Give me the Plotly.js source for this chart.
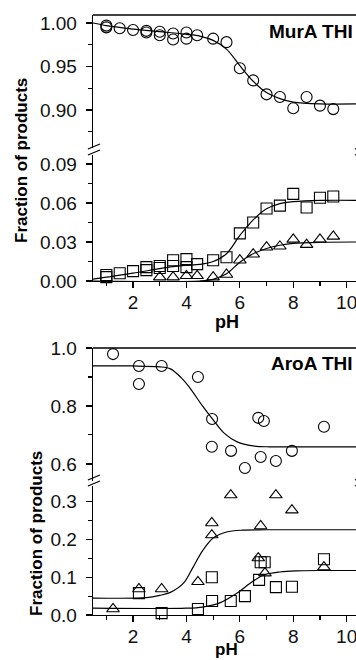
<!DOCTYPE html>
<html>
<head>
<meta charset="utf-8">
<script src="https://cdn.plot.ly/plotly-3.0.1.min.js"></script>
<style>
html,body{margin:0;padding:0;overflow:hidden;background:#fff;}
#chart{width:380px;height:660px;}
</style>
</head>
<body>
<div id="chart"></div>
<script>
// ---- Top panel (MurA THI) ----
const murA_circle_pH = [1.0,1.0,1.5,2.0,2.5,2.5,3.0,3.0,3.5,3.5,4.0,4.0,4.4,5.0,5.5,6.0,6.5,7.0,7.5,8.0,8.5,9.0,9.5];
const murA_circle_val = [0.997,0.995,0.994,0.992,0.991,0.989,0.990,0.986,0.988,0.981,0.989,0.982,0.986,0.982,0.978,0.948,0.934,0.918,0.915,0.902,0.915,0.905,0.901];
const murA_square_pH = [1.0,1.0,1.5,2.0,2.5,2.5,3.0,3.0,3.5,3.5,4.0,4.0,4.4,5.0,5.5,6.0,6.5,7.0,7.5,8.0,8.5,9.0,9.5];
const murA_square_val = [0.0046,0.003,0.006,0.0076,0.0107,0.0084,0.0115,0.010,0.016,0.0115,0.0168,0.0107,0.013,0.016,0.0183,0.0366,0.045,0.0557,0.058,0.067,0.0565,0.064,0.065];
const murA_tri_pH = [3.0,3.5,4.0,4.4,5.0,5.5,6.0,6.5,7.0,7.5,8.0,8.5,9.0,9.5];
const murA_tri_val = [0.003,0.003,0.004,0.004,0.003,0.005,0.016,0.0206,0.026,0.0267,0.032,0.028,0.032,0.0343];
// fitted curves
const murA_fitC_pH = [0.5,1,2,3,4,4.5,5,5.5,6,6.5,7,7.5,8,9,10.5];
const murA_fitC_val = [1.000,0.997,0.993,0.990,0.987,0.985,0.980,0.970,0.951,0.933,0.920,0.913,0.909,0.907,0.907];
const murA_fitS_pH = [0.5,1,2,3,3.5,4,4.5,5,5.5,6,6.5,7,7.5,8,9,10.5];
const murA_fitS_val = [0.0015,0.003,0.006,0.0095,0.011,0.012,0.0128,0.015,0.021,0.035,0.047,0.0555,0.0595,0.061,0.062,0.062];
const murA_fitT_pH = [0.5,4.5,5.0,5.5,6,6.5,7,7.5,8,9,10.5];
const murA_fitT_val = [0,0,0.0012,0.0055,0.0145,0.021,0.025,0.0275,0.029,0.0298,0.030];

// ---- Bottom panel (AroA THI) ----
const aroA_circle_pH = [1.25,2.22,2.22,3.07,4.43,4.96,4.95,5.67,6.19,6.69,6.9,6.78,7.35,7.95,9.15];
const aroA_circle_val = [0.979,0.938,0.876,0.938,0.90,0.755,0.659,0.645,0.586,0.759,0.748,0.624,0.61,0.645,0.728];
const aroA_tri_pH = [1.25,2.22,3.07,4.43,4.95,4.95,5.66,6.69,6.78,6.94,7.35,7.95,9.15];
const aroA_tri_val = [0.016,0.069,0.069,0.088,0.244,0.212,0.318,0.151,0.236,0.111,0.318,0.278,0.127];
const aroA_square_pH = [2.22,3.07,4.43,4.95,4.96,5.66,6.19,6.72,6.78,6.93,7.35,7.95,9.15];
const aroA_square_val = [0.058,0.005,0.016,0.10,0.037,0.037,0.05,0.093,0.14,0.14,0.074,0.075,0.148];
const aroA_fitC_pH = [0.5,2,3,3.4,3.8,4.1,4.6,5.0,5.4,5.9,6.5,7.1,8,10.5];
const aroA_fitC_val = [0.938,0.938,0.935,0.928,0.898,0.866,0.80,0.752,0.707,0.676,0.662,0.659,0.659,0.659];
const aroA_fitT_pH = [0.5,2.5,3.0,3.4,3.9,4.25,4.6,5.0,5.5,6.1,7,10.5];
const aroA_fitT_val = [0.045,0.046,0.052,0.060,0.085,0.127,0.170,0.204,0.220,0.225,0.226,0.226];
const aroA_fitS_pH = [0.5,4.0,4.6,5.25,5.9,6.4,6.9,7.5,8.1,9,10.5];
const aroA_fitS_val = [0.018,0.018,0.021,0.032,0.058,0.085,0.106,0.114,0.117,0.118,0.118];

const xTicks = [2,4,6,8,10];

// ---- styling ----
const H = 660;
const py = p => 1 - p / H;      // pixel row -> paper y
const FONT = 'Arimo, "Liberation Sans", Arial, sans-serif';
const mk = (sym) => ({symbol: sym, size: 11, color: '#000', line: {color: '#000', width: 1.1}});
const pts = (x, y, xa, ya, sym) => ({x, y, xaxis: xa, yaxis: ya, type: 'scatter', mode: 'markers', marker: mk(sym), cliponaxis: false, hoverinfo: 'skip'});
const fit = (x, y, xa, ya) => ({x, y, xaxis: xa, yaxis: ya, type: 'scatter', mode: 'lines', line: {color: '#000', width: 1.2, shape: 'spline', smoothing: 0.9}, hoverinfo: 'skip'});

const data = [
  fit(murA_fitC_pH, murA_fitC_val, 'x', 'y2'),
  fit(murA_fitS_pH, murA_fitS_val, 'x', 'y'),
  fit(murA_fitT_pH, murA_fitT_val, 'x', 'y'),
  pts(murA_circle_pH, murA_circle_val, 'x', 'y2', 'circle-open'),
  pts(murA_square_pH, murA_square_val, 'x', 'y', 'square-open'),
  pts(murA_tri_pH, murA_tri_val, 'x', 'y', 'triangle-up-open'),
  fit(aroA_fitC_pH, aroA_fitC_val, 'x2', 'y4'),
  fit(aroA_fitT_pH, aroA_fitT_val, 'x2', 'y3'),
  fit(aroA_fitS_pH, aroA_fitS_val, 'x2', 'y3'),
  pts(aroA_circle_pH, aroA_circle_val, 'x2', 'y4', 'circle-open'),
  pts(aroA_tri_pH, aroA_tri_val, 'x2', 'y3', 'triangle-up-open'),
  pts(aroA_square_pH, aroA_square_val, 'x2', 'y3', 'square-open')
];

const tickFont = {family: FONT, size: 19, color: '#111'};
const axBase = {showline: true, linecolor: '#000', linewidth: 1.3, ticks: 'outside', ticklen: 6, tickwidth: 1.2, tickcolor: '#000',
  showgrid: false, zeroline: false, tickfont: tickFont, automargin: false, fixedrange: true};
const xAx = (anchor) => Object.assign({}, axBase, {domain: [0, 1], anchor, range: [0.5, 10.5], tickmode: 'array', tickvals: xTicks,
  ticktext: xTicks.map(String), ticklabelstandoff: -2, minor: {dtick: 1, tick0: 0, ticks: 'outside', ticklen: 4, tickcolor: '#000', tickwidth: 1.1}});
const yAx = (dom, range, dtick, tick0, fmt, minorD) => Object.assign({}, axBase, {anchor: dom.anchor, domain: dom.d, range, dtick, tick0,
  tickformat: fmt, mirror: true, ticklabelstandoff: 5, minor: {dtick: minorD, tick0: tick0, ticks: 'outside', ticklen: 4, tickcolor: '#000', tickwidth: 1.1}});

const dTopUp = [py(148), py(15)];
const dTopLo = [py(281), py(155)];
const dBotUp = [py(481), py(348)];
const dBotLo = [py(615), py(486)];

const breakMarks = (pyc) => {
  const s = [];
  [[-0.019, 0.026], [0.981, 1.026]].forEach(([a, b]) => {
    s.push({type: 'line', xref: 'paper', yref: 'paper', x0: a, x1: b, y0: py(pyc), y1: py(pyc - 5), line: {color: '#000', width: 1.2}});
    s.push({type: 'line', xref: 'paper', yref: 'paper', x0: a, x1: b, y0: py(pyc + 6), y1: py(pyc + 1), line: {color: '#000', width: 1.2}});
  });
  return s;
};

const layout = {
  width: 380, height: 660,
  margin: {l: 93, r: 20, t: 0, b: 0},
  paper_bgcolor: '#fff', plot_bgcolor: 'rgba(0,0,0,0)',
  showlegend: false,
  font: {family: FONT, color: '#000'},
  xaxis: xAx('y'),
  xaxis2: xAx('y3'),
  yaxis: yAx({anchor: 'x', d: dTopLo}, [0, 0.0969], 0.03, 0, '.2f', 0.015),
  yaxis2: yAx({anchor: 'x', d: dTopUp}, [0.8563, 1.0092], 0.05, 0.9, '.2f', 0.025),
  yaxis3: yAx({anchor: 'x2', d: dBotLo}, [0, 0.342], 0.1, 0, '.1f', 0.05),
  yaxis4: yAx({anchor: 'x2', d: dBotUp}, [0.541, 1.0], 0.2, 0.6, '.1f', 0.1),
  shapes: [
    {type: 'line', xref: 'paper', yref: 'paper', x0: 0, x1: 1, y0: dTopUp[1], y1: dTopUp[1], line: {color: '#000', width: 1.3}},
    {type: 'line', xref: 'paper', yref: 'paper', x0: 0, x1: 1, y0: dBotUp[1], y1: dBotUp[1], line: {color: '#000', width: 1.3}}
  ].concat(breakMarks(149), breakMarks(480)),
  annotations: [
    {text: '<b>MurA THI</b>', xref: 'paper', yref: 'paper', x: (355 - 93) / 267, y: py(32), xanchor: 'right', yanchor: 'middle', showarrow: false, font: {family: FONT, size: 19, color: '#000'}},
    {text: '<b>AroA THI</b>', xref: 'paper', yref: 'paper', x: (355 - 93) / 267, y: py(363), xanchor: 'right', yanchor: 'middle', showarrow: false, font: {family: FONT, size: 19, color: '#000'}},
    {text: '<b>Fraction of products</b>', xref: 'paper', yref: 'paper', x: (22 - 93) / 267, y: py(161), xanchor: 'center', yanchor: 'middle', textangle: -90, showarrow: false, font: {family: FONT, size: 17, color: '#000'}},
    {text: '<b>Fraction of products</b>', xref: 'paper', yref: 'paper', x: (36 - 93) / 267, y: py(534), xanchor: 'center', yanchor: 'middle', textangle: -90, showarrow: false, font: {family: FONT, size: 17, color: '#000'}},
    {text: '<b>pH</b>', xref: 'paper', yref: 'paper', x: 0.5, y: py(322), xanchor: 'center', yanchor: 'middle', showarrow: false, font: {family: FONT, size: 18, color: '#000'}},
    {text: '<b>pH</b>', xref: 'paper', yref: 'paper', x: 0.5, y: 0, xanchor: 'center', yanchor: 'bottom', borderpad: 0, showarrow: false, font: {family: FONT, size: 17, color: '#000'}}
  ]
};

Plotly.newPlot('chart', data, layout, {displayModeBar: false, staticPlot: true});
</script>
</body>
</html>
